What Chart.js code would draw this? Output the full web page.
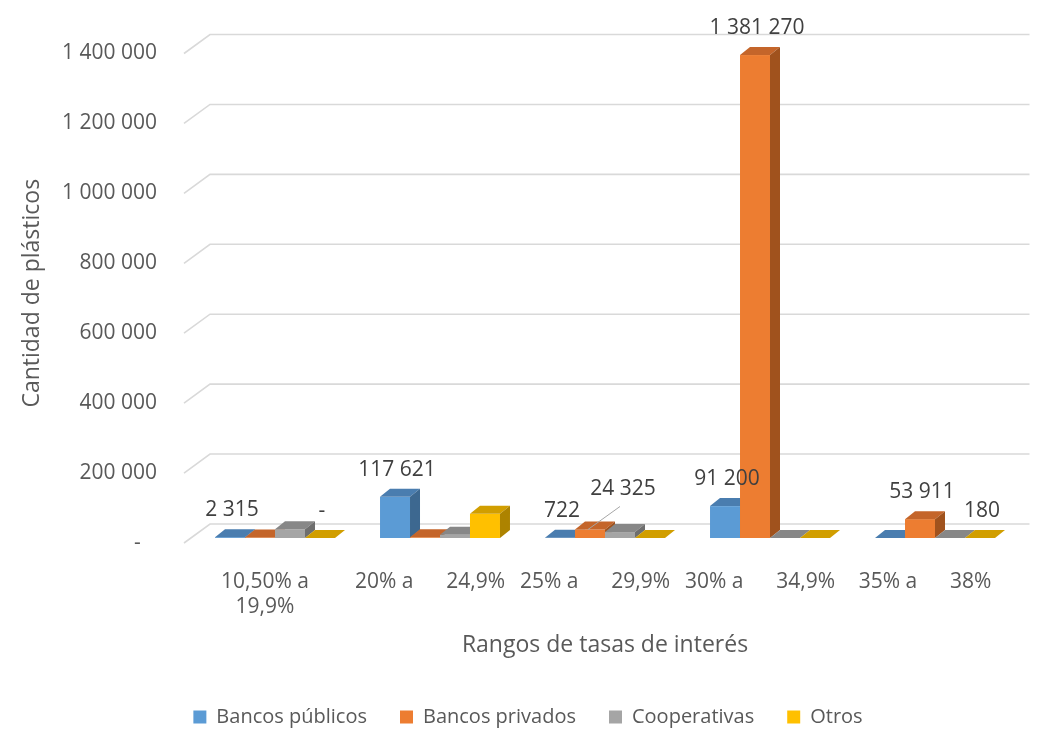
<!DOCTYPE html>
<html>
<head>
<meta charset="utf-8">
<script src="https://cdn.jsdelivr.net/npm/chart.js@4.4.1/dist/chart.umd.min.js"></script>
<style>
  html, body { margin: 0; padding: 0; background: #fff; }
</style>
</head>
<body>
<canvas id="chart" width="1038" height="729"></canvas>
<script>
// --- data ---
const categories = [['10,50% a', '19,9%'], '20% a      24,9%', '25% a      29,9%', '30% a      34,9%', '35% a      38%'];
const bancosPublicos = [2315, 117621, 722, 91200, 0];
const bancosPrivados = [1500, 2000, 24325, 1381270, 53911];
const cooperativas = [25000, 9000, 17000, 300, 300];
const otros = [0, 69000, 0, 0, 180];

// which points show a value label in the original
const labelPublicos = [true, true, true, true, false];
const labelPrivados = [false, false, true, true, true];
const labelCooperativas = [false, false, false, false, false];
const labelOtros = [true, false, false, false, true];

const yTickValues = [0, 200000, 400000, 600000, 800000, 1000000, 1200000, 1400000];

const FONT = 'Open Sans';
const TXT = '#595959';

// front / top / side colours of the 3d columns
const faces = [
  ['#5B9BD5', '#4A7DAF', '#3D6890'],
  ['#ED7D31', '#C4652A', '#A0521D'],
  ['#A5A5A5', '#878787', '#6E6E6E'],
  ['#FFC000', '#D19E00', '#AD8300']
];

function fmt(v) {
  if (v === 0) return '-';
  return String(v).replace(/\B(?=(\d{3})+(?!\d))/g, ' ');
}

const DX = 10, DY = -8; // column depth

const columns3d = {
  id: 'columns3d',
  beforeDatasetsDraw(chart) {
    const { ctx, chartArea, scales: { y } } = chart;
    ctx.save();

    // back wall grid with the little side-wall diagonal
    ctx.strokeStyle = '#d9d9d9';
    ctx.lineWidth = 1.6;
    yTickValues.forEach(v => {
      const py = y.getPixelForValue(v) - 14;
      ctx.beginPath();
      ctx.moveTo(chartArea.left - 8.5, py + 19);
      ctx.lineTo(chartArea.left + 17.5, py);
      ctx.lineTo(chartArea.right + 12, py);
      ctx.stroke();
    });

    // columns, category by category so neighbours hide each other's sides
    categories.forEach((c, j) => {
      chart.data.datasets.forEach((ds, i) => {
        const el = chart.getDatasetMeta(i).data[j];
        const l = el.x - el.width / 2, r = el.x + el.width / 2;
        const t = el.y, b = el.base;
        const f = faces[i];
        ctx.fillStyle = f[0];
        ctx.fillRect(l, t, r - l, b - t);
        ctx.fillStyle = f[1];
        ctx.beginPath();
        ctx.moveTo(l, t); ctx.lineTo(l + DX, t + DY); ctx.lineTo(r + DX, t + DY); ctx.lineTo(r, t);
        ctx.closePath(); ctx.fill();
        ctx.fillStyle = f[2];
        ctx.beginPath();
        ctx.moveTo(r, t); ctx.lineTo(r + DX, t + DY); ctx.lineTo(r + DX, b + DY); ctx.lineTo(r, b);
        ctx.closePath(); ctx.fill();
      });
    });

    // value labels
    ctx.font = '21px "' + FONT + '"';
    ctx.textAlign = 'center';
    ctx.textBaseline = 'middle';
    const boxes = [];
    categories.forEach((c, j) => {
      chart.data.datasets.forEach((ds, i) => {
        if (!ds.showLabel[j]) return;
        const el = chart.getDatasetMeta(i).data[j];
        const txt = fmt(ds.data[j]);
        const w = ctx.measureText(txt).width;
        let cx = el.x + 2, cy = el.y - 27;
        const hit = boxes.some(bx => Math.abs(bx.x - cx) < (bx.w + w) / 2 && Math.abs(bx.y - cy) < 20);
        if (hit) {
          // move out of the way and add a leader line, as Excel does
          cx += 31; cy -= 13;
          ctx.strokeStyle = '#a6a6a6';
          ctx.lineWidth = 1;
          ctx.beginPath();
          ctx.moveTo(el.x - 2, el.y);
          ctx.lineTo(cx - 3, cy + 17);
          ctx.stroke();
        }
        boxes.push({ x: cx, y: cy, w: w });
        ctx.fillStyle = '#404040';
        ctx.fillText(txt, cx, cy);
      });
    });

    ctx.restore();
    return false;
  }
};

new Chart(document.getElementById('chart'), {
  type: 'bar',
  data: {
    labels: categories,
    datasets: [
      { label: 'Bancos públicos', data: bancosPublicos, showLabel: labelPublicos, backgroundColor: faces[0][0], borderWidth: 0 },
      { label: 'Bancos privados', data: bancosPrivados, showLabel: labelPrivados, backgroundColor: faces[1][0], borderWidth: 0 },
      { label: 'Cooperativas', data: cooperativas, showLabel: labelCooperativas, backgroundColor: faces[2][0], borderWidth: 0 },
      { label: 'Otros', data: otros, showLabel: labelOtros, backgroundColor: faces[3][0], borderWidth: 0 }
    ]
  },
  options: {
    responsive: false,
    animation: false,
    events: [],
    categoryPercentage: 0.727,
    barPercentage: 1,
    layout: { padding: { left: 18, right: 0, top: 48.5, bottom: -8 } },
    plugins: {
      tooltip: { enabled: false },
      legend: {
        position: 'bottom',
        labels: { boxWidth: 13, boxHeight: 13, padding: 33, color: TXT, font: { family: FONT, size: 20 } }
      }
    },
    scales: {
      x: {
        grid: { display: false, drawTicks: false },
        border: { display: false },
        ticks: { color: TXT, font: { family: FONT, size: 21 }, padding: 31, labelOffset: -10, maxRotation: 0, autoSkip: false },
        title: { display: true, text: 'Rangos de tasas de interés', color: TXT, font: { family: FONT, size: 23 }, padding: { top: 0, bottom: 15 } },
        afterFit(s) { s.height = 136; }
      },
      y: {
        min: 0,
        max: 1400000,
        grid: { display: false, drawTicks: false },
        border: { display: false },
        afterBuildTicks(s) { s.ticks = yTickValues.map(v => ({ value: v })); },
        ticks: { color: TXT, font: { family: FONT, size: 21 }, padding: 35.5, labelOffset: 5, callback: v => v === 0 ? '-   ' : fmt(v) },
        title: { display: true, text: 'Cantidad de plásticos', color: TXT, font: { family: FONT, size: 23 }, padding: { top: 1, bottom: 0 } },
        afterFit(s) { s.width = 174.5; }
      },
      y2: {
        position: 'right',
        display: true,
        grid: { display: false, drawTicks: false },
        border: { display: false },
        ticks: { display: false },
        afterFit(s) { s.width = 20.5; }
      }
    }
  },
  plugins: [columns3d]
});
</script>
</body>
</html>
